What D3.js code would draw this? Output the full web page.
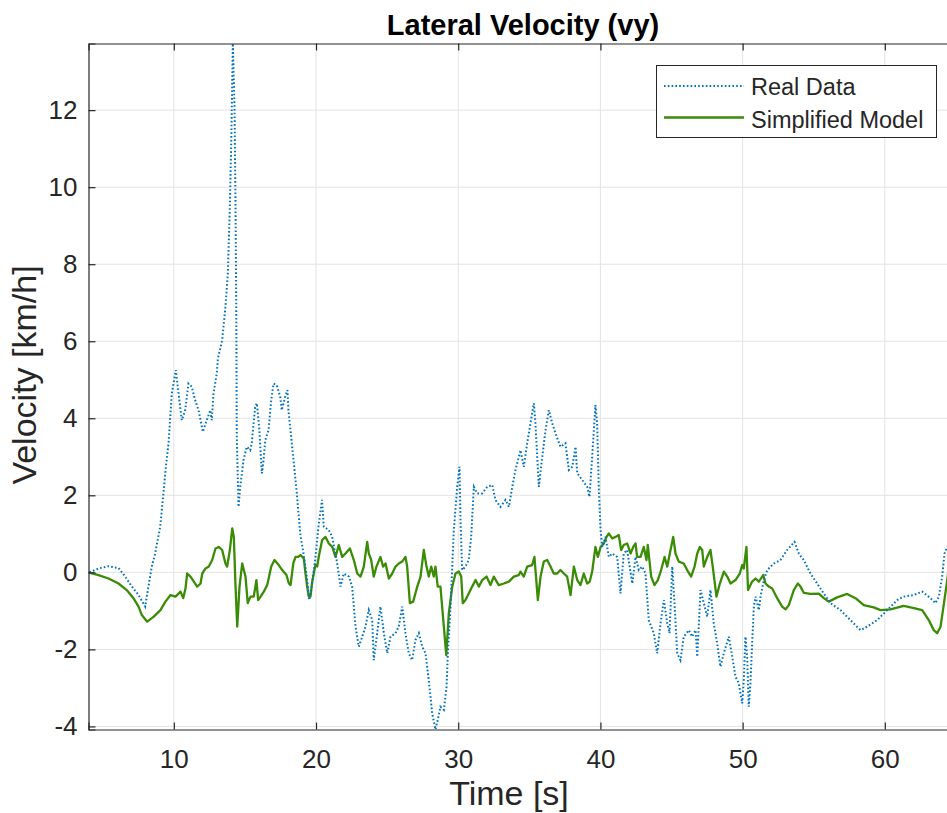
<!DOCTYPE html>
<html>
<head>
<meta charset="utf-8">
<script src="https://cdn.jsdelivr.net/npm/d3@7"></script>
<style>
  html, body { margin: 0; padding: 0; background: #fff; }
  svg { display: block; }
</style>
</head>
<body>
<svg id="chart" width="947" height="813"></svg>
<script>
// Measured lateral velocity (dotted) and the simplified model response (solid)
const realTime = [4.07,4.70,5.41,6.11,6.58,7.05,7.52,7.99,8.10,8.45,8.69,9.04,9.27,9.44,9.63,9.86,10.14,10.33,10.56,10.80,11.03,11.26,11.50,11.74,12.04,12.32,12.56,12.67,12.79,13.02,13.10,13.40,13.63,13.80,13.94,14.04,14.15,14.27,14.34,14.39,14.41,14.43,14.55,14.67,14.90,15.13,15.37,15.48,15.72,15.84,16.00,16.19,16.31,16.43,16.66,16.85,17.01,17.24,17.48,17.59,17.83,17.99,18.06,18.30,18.42,18.65,18.89,19.12,19.35,19.52,19.66,19.94,20.17,20.42,20.55,20.90,21.14,21.49,21.72,21.95,22.31,22.54,22.78,23.01,23.25,23.48,23.71,23.95,24.06,24.30,24.53,24.77,25.01,25.24,25.59,25.82,26.06,26.29,26.52,26.76,26.99,27.23,27.47,27.70,27.93,28.17,28.40,28.56,28.75,28.99,29.18,29.27,29.46,29.69,29.93,30.09,30.16,30.28,30.51,30.74,30.91,31.10,31.33,31.69,32.04,32.39,32.62,32.97,33.33,33.56,33.80,34.03,34.26,34.38,34.61,34.85,35.08,35.32,35.43,35.67,35.91,36.14,36.37,36.61,36.84,37.19,37.54,37.78,38.02,38.25,38.37,38.72,39.07,39.23,39.42,39.65,39.77,39.89,40.01,40.13,40.36,40.59,40.83,41.18,41.41,41.64,41.88,42.24,42.47,42.70,42.94,43.17,43.40,43.75,43.99,44.23,44.46,44.70,44.86,45.05,45.21,45.40,45.63,45.86,46.22,46.45,46.69,46.81,47.04,47.27,47.51,47.74,47.97,48.21,48.44,48.68,49.03,49.27,49.50,49.73,49.97,50.08,50.20,50.32,50.43,50.55,50.67,50.79,50.91,51.14,51.26,51.49,51.73,52.19,52.66,53.13,53.65,53.95,54.30,54.77,55.24,55.71,56.18,56.88,57.58,58.29,58.76,59.46,60.17,60.87,61.33,62.04,62.63,63.21,63.56,63.80,64.03,64.20,64.39,64.60];
const realVel = [0,0.10,0.16,0.11,-0.11,-0.37,-0.59,-0.89,-0.63,0.15,0.49,1.18,2.05,2.74,3.36,4.65,5.25,4.65,3.95,4.21,4.90,4.82,4.47,4.21,3.65,3.95,4.21,3.95,4.65,5.16,5.55,6.03,6.89,7.76,9.49,11.22,13.73,12.08,9.49,6.89,5.16,3.50,1.70,2.22,2.91,3.26,3.17,3.35,4.30,4.39,3.78,2.57,2.91,3.43,3.69,4.47,4.90,4.86,4.56,4.21,4.56,4.73,4.21,3.35,2.91,2.05,1.01,0.49,-0.11,-0.72,-0.46,0.32,1.18,1.88,1.18,1.10,0.92,0.23,-0.37,-0.03,-0.11,-0.37,-1.41,-1.93,-1.67,-1.41,-0.98,-1.24,-2.28,-1.58,-0.89,-1.58,-2.10,-1.67,-1.58,-1.41,-0.89,-1.58,-2.10,-2.28,-1.76,-1.58,-1.93,-2.10,-2.80,-3.66,-4.08,-3.83,-3.49,-3.57,-2.97,-2.10,-0.89,1.10,2.22,2.74,1.36,0.06,0.15,0.32,0.92,2.22,2.05,2.05,2.22,2.27,1.88,1.70,1.88,1.70,2.22,2.66,3.00,3.17,2.74,3.35,3.87,4.39,3.87,2.22,3.00,3.69,4.21,3.87,3.61,3.26,3.35,2.66,2.74,3.26,2.57,2.40,2.22,1.96,3.00,4.34,3.87,2.14,1.10,0.66,0.92,0.40,0.49,0.40,-0.55,0.49,0.58,-0.29,0.40,0.06,0.15,-0.03,-1.24,-1.58,-2.10,-1.32,-0.72,-1.32,-1.58,0.15,-0.80,-2.10,-2.28,-1.67,-1.50,-1.67,-1.50,-2.19,-0.46,-0.80,-1.15,-0.46,-1.32,-1.84,-2.45,-2.10,-1.67,-2.19,-2.71,-2.88,-3.40,-2.80,-1.67,-2.19,-3.49,-2.88,-1.84,-0.89,-0.63,-0.98,-0.63,-0.20,0.06,0.23,0.32,0.58,0.79,0.49,0.32,-0.03,-0.29,-0.55,-0.80,-0.98,-1.24,-1.50,-1.41,-1.24,-0.98,-0.72,-0.63,-0.59,-0.50,-0.67,-0.80,-0.63,-0.11,0.49,0.66,0.75];

const modelTime = [4.00,4.70,5.41,6.11,6.69,7.16,7.52,7.75,8.13,8.59,9.06,9.41,9.77,10.12,10.47,10.66,10.82,10.94,11.17,11.41,11.64,11.88,12.00,12.23,12.46,12.70,12.93,13.16,13.40,13.63,13.75,13.94,14.11,14.22,14.34,14.46,14.62,14.81,15.04,15.20,15.39,15.62,15.81,15.93,16.10,16.33,16.57,16.85,17.08,17.38,17.62,17.92,18.09,18.21,18.40,18.56,18.75,18.91,19.14,19.26,19.38,19.49,19.61,19.73,19.96,20.08,20.19,20.43,20.67,20.90,21.14,21.37,21.60,21.84,22.07,22.38,22.66,22.90,23.13,23.36,23.60,23.71,23.88,24.06,24.25,24.53,24.72,24.89,25.12,25.36,25.59,25.82,26.06,26.29,26.41,26.60,26.83,27.12,27.35,27.58,27.77,27.93,28.10,28.28,28.40,28.56,28.75,28.99,29.16,29.34,29.58,29.81,30.04,30.21,30.32,30.51,30.74,30.98,31.22,31.45,31.69,31.99,32.27,32.50,32.85,33.21,33.56,33.91,34.26,34.38,34.61,34.85,35.20,35.36,35.60,35.79,36.02,36.26,36.49,36.72,36.96,37.19,37.43,37.66,37.90,38.13,38.37,38.60,38.83,39.07,39.25,39.42,39.65,39.82,40.01,40.24,40.43,40.59,40.83,41.06,41.29,41.46,41.64,41.88,42.12,42.31,42.47,42.58,42.82,43.05,43.24,43.33,43.57,43.80,44.04,44.27,44.51,44.70,44.93,45.12,45.28,45.51,45.86,46.10,46.38,46.62,46.81,46.99,47.16,47.27,47.51,47.74,47.93,48.16,48.40,48.68,48.92,49.15,49.50,49.80,49.97,50.08,50.27,50.38,50.67,50.91,51.14,51.45,51.61,51.84,52.08,52.43,52.78,53.02,53.25,53.60,53.88,54.07,54.30,54.77,55.36,55.71,56.06,56.65,57.35,57.94,58.52,59.22,59.70,60.40,61.33,62.04,62.63,63.09,63.44,63.68,63.92,64.16,64.39,64.62];
const modelVel = [0,-0.07,-0.16,-0.29,-0.46,-0.67,-0.89,-1.11,-1.28,-1.15,-0.98,-0.76,-0.59,-0.63,-0.50,-0.67,-0.42,-0.03,-0.11,-0.24,-0.37,-0.29,-0.03,0.10,0.15,0.32,0.62,0.66,0.58,0.23,0.15,0.58,1.14,0.92,-0.37,-1.41,-0.37,0.23,-0.11,-0.80,-0.63,-0.63,-0.20,-0.72,-0.63,-0.50,-0.33,0.15,0.32,0.19,0.06,-0.07,-0.29,-0.33,0.23,0.40,0.40,0.45,0.36,-0.03,-0.37,-0.63,-0.63,-0.25,0.20,0.15,0.40,0.84,0.92,0.75,0.66,0.40,0.71,0.40,0.49,0.62,0.32,-0.03,-0.11,0.15,0.79,0.49,0.32,-0.11,0.15,0.40,0.15,0.23,-0.16,-0.03,0.15,0.23,0.28,0.40,0.15,-0.80,-0.76,-0.37,-0.11,0.58,0.15,-0.11,0.15,-0.11,0.15,-0.37,-0.37,-1.41,-2.15,-1.06,-0.37,-0.03,0.02,-0.11,-0.80,-0.72,-0.55,-0.37,-0.20,-0.37,-0.20,-0.11,-0.33,-0.11,-0.33,-0.29,-0.24,-0.11,-0.07,0.02,-0.11,0.15,0.19,0.40,-0.72,-0.11,0.28,0.32,0.15,-0.03,-0.03,0.06,-0.03,-0.11,-0.59,0.15,-0.20,-0.33,-0.03,-0.29,-0.24,0.02,0.66,0.40,0.66,0.75,0.92,1.01,0.88,0.92,0.97,0.58,0.71,0.75,0.49,0.66,0.75,0.40,0.40,0.66,0.32,0.71,-0.11,-0.33,-0.20,0.06,0.40,0.15,0.58,0.92,0.49,0.28,0.23,0.06,-0.11,0.15,0.49,0.66,0.58,0.15,0.40,0.58,0.06,-0.63,-0.29,0.02,-0.11,-0.29,-0.20,-0.03,0.19,0.10,0.66,-0.46,-0.24,-0.16,-0.24,-0.07,-0.29,-0.37,-0.42,-0.67,-0.89,-0.96,-0.85,-0.46,-0.29,-0.37,-0.53,-0.56,-0.55,-0.67,-0.76,-0.65,-0.56,-0.67,-0.85,-0.91,-0.98,-0.96,-0.87,-0.93,-0.98,-1.24,-1.50,-1.58,-1.41,-0.80,-0.20,0.50];

const xTicks = [10, 20, 30, 40, 50, 60];
const yTicks = [-4, -2, 0, 2, 4, 6, 8, 10, 12];
const xDomain = [4, 65];
const yDomain = [-4.08, 13.73];
const seriesNames = ["Real Data", "Simplified Model"];

const FONT = "'Liberation Sans', Arial, Helvetica, sans-serif";
const AXIS_COLOR = "#262626";
const BLUE = "#0072BD";
const GREEN = "#3a8c06";

const svg = d3.select("#chart");
const box = { left: 88.5, top: 43.5, bottom: 729.5 };
const pxPerUnit = 14.22;
box.right = box.left + (xDomain[1] - xDomain[0]) * pxPerUnit;

const x = d3.scaleLinear().domain(xDomain).range([box.left, box.right]);
const y = d3.scaleLinear().domain(yDomain).range([box.bottom, box.top]);

// clip for the plotted lines
svg.append("defs").append("clipPath").attr("id", "plotClip")
  .append("rect")
  .attr("x", box.left).attr("y", box.top)
  .attr("width", box.right - box.left).attr("height", box.bottom - box.top);

// grid
const grid = svg.append("g").attr("stroke", "#e3e3e3").attr("stroke-width", 1);
grid.selectAll("line.vx").data(xTicks).join("line")
  .attr("x1", d => x(d)).attr("x2", d => x(d))
  .attr("y1", box.top).attr("y2", box.bottom);
grid.selectAll("line.hy").data(yTicks).join("line")
  .attr("x1", box.left).attr("x2", box.right)
  .attr("y1", d => y(d)).attr("y2", d => y(d));

// data lines
const plot = svg.append("g").attr("clip-path", "url(#plotClip)");
const line = d3.line().x(d => x(d[0])).y(d => y(d[1]));
const realPts = realTime.map((t, i) => [t, realVel[i]]);
const modelPts = modelTime.map((t, i) => [t, modelVel[i]]);

plot.append("path").datum(modelPts)
  .attr("d", line).attr("fill", "none")
  .attr("stroke", GREEN).attr("stroke-width", 2.3)
  .attr("stroke-linejoin", "round");
plot.append("path").datum(realPts)
  .attr("d", line).attr("fill", "none")
  .attr("stroke", BLUE).attr("stroke-width", 2)
  .attr("stroke-dasharray", "1.6,2.2");

// axes (ticks pointing inward, as in the MATLAB style); plain hyphen for negatives
const fmt = d => String(d);
const xAxis = d3.axisBottom(x).tickValues(xTicks).tickSize(-7).tickPadding(20).tickFormat(fmt);
const xAxisTop = d3.axisTop(x).tickValues(xTicks).tickSize(-7).tickFormat("");
const yAxis = d3.axisLeft(y).tickValues(yTicks).tickSize(-7).tickPadding(11).tickFormat(fmt);

function styleAxis(g) {
  g.select(".domain").attr("stroke", AXIS_COLOR).attr("stroke-width", 1.2);
  g.selectAll(".tick line").attr("stroke", AXIS_COLOR).attr("stroke-width", 1.2);
  g.selectAll(".tick text").attr("fill", AXIS_COLOR)
    .style("font-family", FONT).style("font-size", "26px");
}

svg.append("g").attr("transform", `translate(0,${box.bottom})`).call(xAxis).call(styleAxis);
svg.append("g").attr("transform", `translate(0,${box.top})`).call(xAxisTop).call(styleAxis);
svg.append("g").attr("transform", `translate(${box.left},0)`).call(yAxis).call(styleAxis);

// title and axis labels
svg.append("text").attr("x", 523).attr("y", 35)
  .attr("text-anchor", "middle").attr("fill", "#000")
  .style("font-family", FONT).style("font-size", "29px").style("font-weight", "bold")
  .text("Lateral Velocity (vy)");
svg.append("text").attr("x", 509).attr("y", 805)
  .attr("text-anchor", "middle").attr("fill", AXIS_COLOR)
  .style("font-family", FONT).style("font-size", "34px")
  .text("Time [s]");
svg.append("text")
  .attr("transform", `translate(36,375) rotate(-90)`)
  .attr("text-anchor", "middle").attr("fill", AXIS_COLOR)
  .style("font-family", FONT).style("font-size", "34px")
  .text("Velocity [km/h]");

// legend
const lg = svg.append("g");
lg.append("rect").attr("x", 656.5).attr("y", 65.5).attr("width", 280).attr("height", 72)
  .attr("fill", "#fff").attr("stroke", AXIS_COLOR).attr("stroke-width", 1);
const legendItems = [
  { name: seriesNames[0], color: BLUE, dash: "1.6,2.2", w: 2, cy: 86, base: 95 },
  { name: seriesNames[1], color: GREEN, dash: null, w: 2.3, cy: 117.5, base: 128 }
];
legendItems.forEach(it => {
  lg.append("line").attr("x1", 664).attr("x2", 744).attr("y1", it.cy).attr("y2", it.cy)
    .attr("stroke", it.color).attr("stroke-width", it.w)
    .attr("stroke-dasharray", it.dash);
  lg.append("text").attr("x", 751).attr("y", it.base)
    .attr("fill", AXIS_COLOR)
    .style("font-family", FONT).style("font-size", "23.5px")
    .text(it.name);
});
</script>
</body>
</html>
